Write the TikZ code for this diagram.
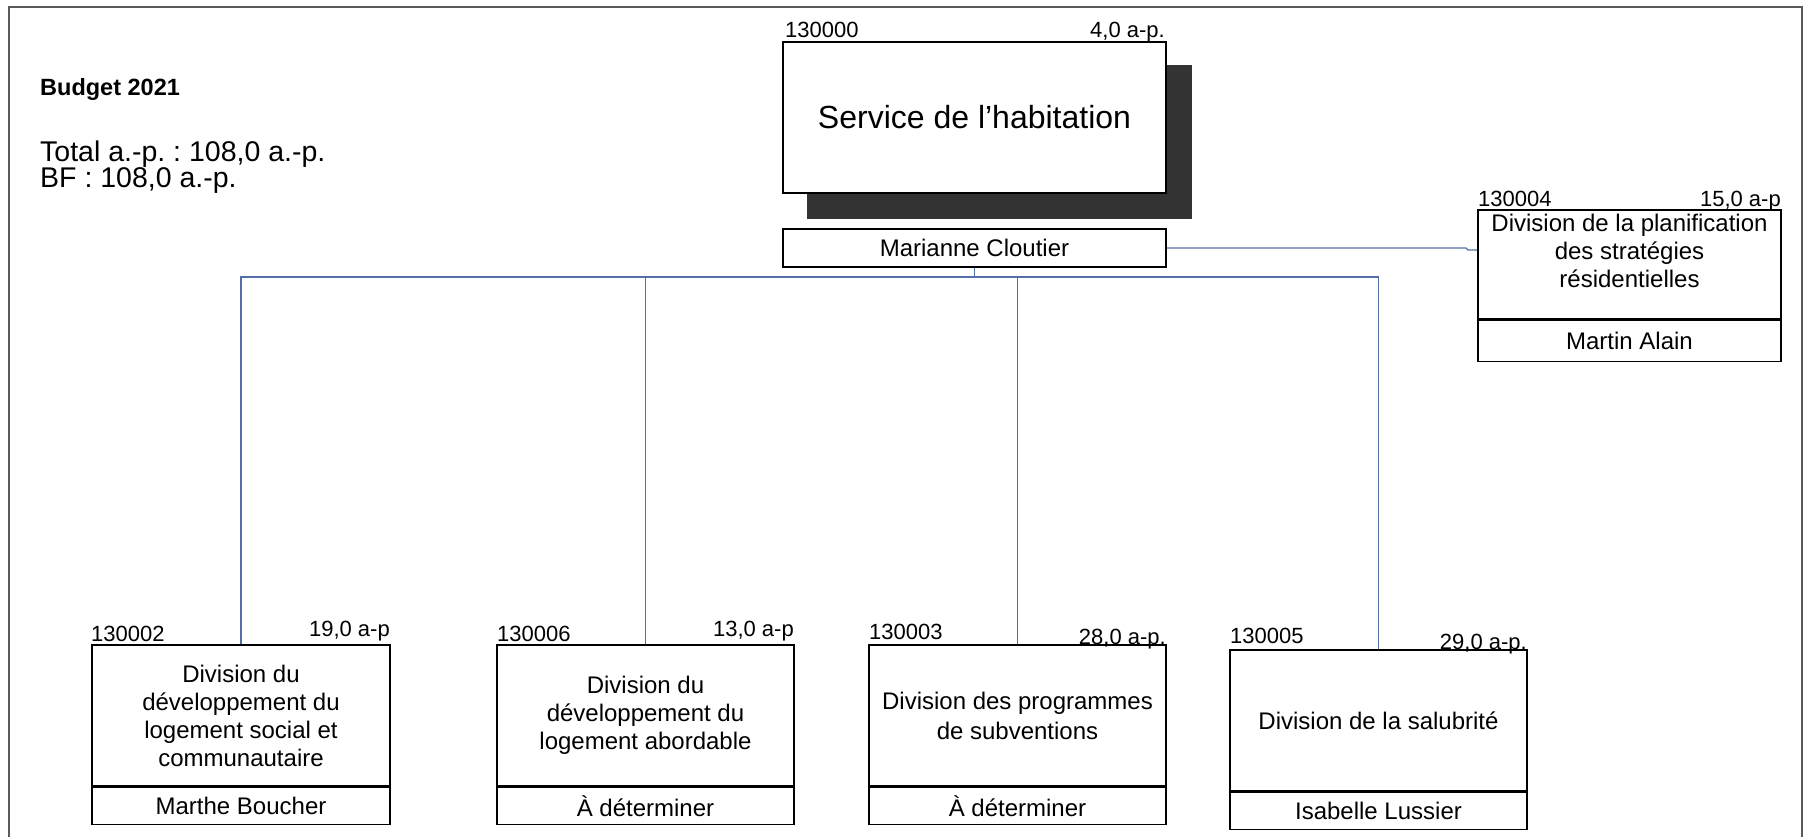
\documentclass[tikz,border=0pt]{standalone}
\usepackage{fontspec}
\setmainfont{Liberation Sans}
\frenchspacing
\definecolor{connc}{RGB}{84,110,168}
\definecolor{framec}{RGB}{90,90,90}
\definecolor{shadowc}{RGB}{51,51,51}
\tikzset{
  box/.style={draw=black, line width=1.6pt, fill=white, inner sep=0pt, align=center,
    font=\fontsize{24}{28}\selectfont},
  conn/.style={draw=connc, line width=1.4pt},
  lbl/.style={inner sep=0pt, font=\fontsize{22}{24}\selectfont},
  lefttxt/.style={inner sep=0pt, anchor=base west, font=\fontsize{28.5}{29}\selectfont},
}
\begin{document}
\begin{tikzpicture}[x=1pt,y=-1pt]
\useasboundingbox (0,0) rectangle (1808,836);
% frame
\draw[framec, line width=2pt] (9,840) -- (9,7) -- (1802,7) -- (1802,840);
% left text
\node[lefttxt, font=\fontsize{23.5}{26}\selectfont\bfseries] (bud) at (40,95) {Budget 2021};
\node[lefttxt] (tot) at (40,161) {Total a.-p. : 108,0 a.-p.};
\node[lefttxt] (bf) at (40,187) {BF : 108,0 a.-p.};
% main box
\fill[shadowc] (807,65) rectangle (1192,219);
\node[box, minimum width=383pt, minimum height=151pt, font=\fontsize{32}{36}\selectfont] (main) at (974.5,117.5) {Service de l’habitation};
\node[lbl, anchor=base west] (l0a) at (785,37) {130000};
\node[lbl, anchor=base east] (l0b) at (1165,37) {4,0 a-p.};
\node[box, minimum width=383pt, minimum height=38pt] (mar) at (974.5,248) {Marianne Cloutier};
% Martin box
\node[box, minimum width=303pt, minimum height=109pt] (mtop) at (1629.5,264.5) {};
\node[inner sep=0pt, align=center, font=\fontsize{24}{28}\selectfont] (mtxt) at (1629.5,251) {Division de la planification\\des stratégies\\résidentielles};
\node[box, minimum width=303pt, minimum height=41pt, anchor=north] (mname) at (mtop.south) {Martin Alain};
\node[lbl, anchor=base west] (l4a) at (1478,206) {130004};
\node[lbl, anchor=base east] (l4b) at (1781,206) {15,0 a-p};
% bottom boxes
\node[box, minimum width=298pt, minimum height=141pt] (d1) at (241,715.5) {Division du\\développement du\\logement social et\\communautaire};
\node[box, minimum width=298pt, minimum height=37pt, anchor=north] (d1n) at (d1.south) {Marthe Boucher};
\node[lbl, anchor=base west] (l1a) at (91,641) {130002};
\node[lbl, anchor=base east] (l1b) at (390,636) {19,0 a-p};
\node[box, minimum width=297pt, minimum height=141pt] (d2) at (645.5,715.5) {Division du\\développement du\\logement abordable};
\node[box, minimum width=297pt, minimum height=37pt, anchor=north] (d2n) at (d2.south) {À déterminer};
\node[lbl, anchor=base west] (l2a) at (497,641) {130006};
\node[lbl, anchor=base east] (l2b) at (794,636) {13,0 a-p};
\node[box, minimum width=297pt, minimum height=141pt] (d3) at (1017.5,715.5) {Division des programmes\\[2pt]de subventions};
\node[box, minimum width=297pt, minimum height=37pt, anchor=north] (d3n) at (d3.south) {À déterminer};
\node[lbl, anchor=base west] (l3a) at (869,639) {130003};
\node[lbl, anchor=base east] (l3b) at (1166,644) {28,0 a-p.};
\node[box, minimum width=297pt, minimum height=141pt] (d4) at (1378.5,720.5) {Division de la salubrité};
\node[box, minimum width=297pt, minimum height=37pt, anchor=north] (d4n) at (d4.south) {Isabelle Lussier};
\node[lbl, anchor=base west] (l5a) at (1230,643) {130005};
\node[lbl, anchor=base east] (l5b) at (1527,649) {29,0 a-p.};
% connectors
\coordinate (j0) at (975,277);
\coordinate (k1) at (1466,248);
\coordinate (k2) at (1468,250);
\draw[conn] (mar.south) -- (mar.south |- j0);
\draw[conn] (d1.north) -- (d1.north |- j0) -- (d4.north |- j0) -- (d4.north);
\draw[conn] (d2.north) -- (d2.north |- j0);
\draw[conn] (d3.north) -- (d3.north |- j0);
\draw[conn] (mar.east) -- (k1) -- (k2) -- (k2 -| mtop.west);
\end{tikzpicture}
\end{document}
